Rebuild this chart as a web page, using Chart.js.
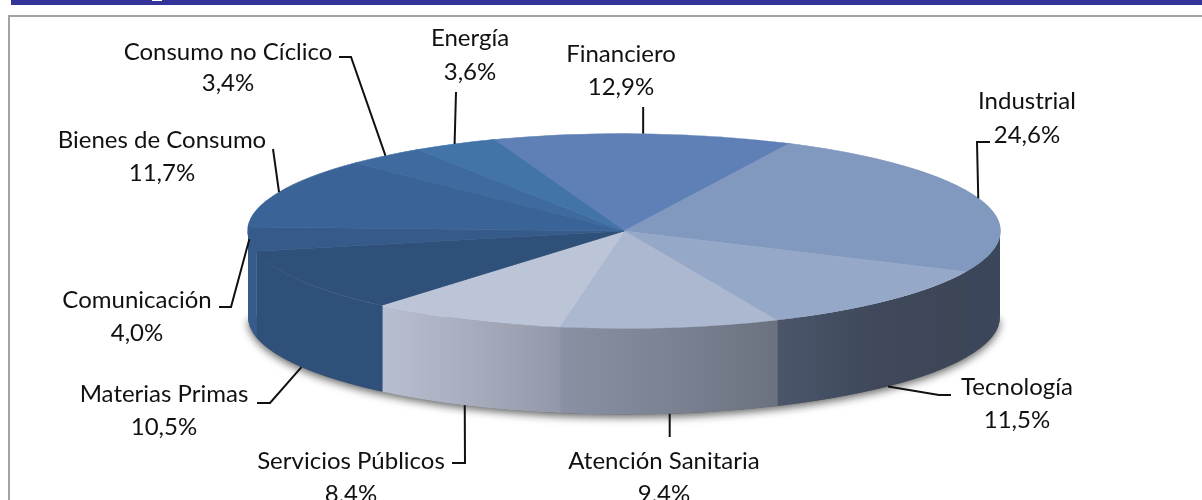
<!DOCTYPE html>
<html>
<head>
<meta charset="utf-8">
<title>Sectores</title>
<script src="https://cdn.jsdelivr.net/npm/chart.js@4.4.1/dist/chart.umd.js"></script>
<style>
    html, body { margin: 0; padding: 0; background: #fff; overflow: hidden; }
    .page { position: relative; width: 1202px; height: 500px; overflow: hidden; }
    .header { position: absolute; left: 11px; top: 0; right: 0; height: 5px; background: #333399; }
    .header i { position: absolute; left: 141px; top: 0; width: 10px; height: 1px; background: #fff; }
    .frame { position: absolute; left: 8px; top: 15px; width: 1300px; height: 600px; border: 2px solid #a3a3a3; }
    canvas { position: absolute; left: 0; top: 0; }
</style>
</head>
<body>
<div class="page">
    <div class="header"><i></i></div>
    <div class="frame"></div>
    <canvas id="sectorChart" width="1202" height="500"></canvas>
</div>
<script>
// Data
const categories = ['Financiero', 'Industrial', 'Tecnología', 'Atención Sanitaria', 'Servicios Públicos',
    'Materias Primas', 'Comunicación', 'Bienes de Consumo', 'Consumo no Cíclico', 'Energía'];
const values = [12.9, 24.6, 11.5, 9.4, 8.4, 10.5, 4.0, 11.7, 3.4, 3.6];

// Colours
const topColors = ['#5f80b6', '#8198bf', '#96a8c8', '#abb8d0', '#bcc4d7',
    '#2f5078', '#365b8a', '#3a6498', '#3e6a9f', '#4274aa'];
const wallLeft = ['#5f80b6', '#3a4659', '#4c566b', '#8a91a4', '#b8bfd0',
    '#2f5078', '#365b8a', '#3a6498', '#3e6a9f', '#4274aa'];
const wallMiddle = ['#5f80b6', '#3b465a', '#3f495b', '#7b8292', '#a7adbd',
    '#2f5078', '#365b8a', '#3a6498', '#3e6a9f', '#4274aa'];
const wallRight = ['#5f80b6', '#3b475b', '#3c4657', '#6a717f', '#9298a8',
    '#2f5078', '#365b8a', '#3a6498', '#3e6a9f', '#4274aa'];

// Pie geometry on the page
const pie = { x: 624, y: 231, rx: 376, ry: 97.5, depth: 86 };

// Label centre and the elbow of its leader line
const labelLayout = [
    { x: 621, y: 54, y2: 87, leader: [] },
    { x: 1027, y: 101, y2: 135, leader: [[990, 142], [977, 142]] },
    { x: 1017, y: 387, y2: 420, leader: [[951, 395], [939, 395]] },
    { x: 664, y: 461, y2: 494, leader: [] },
    { x: 351, y: 461, y2: 494, leader: [[452, 463], [465, 463]] },
    { x: 164, y: 394, y2: 427, leader: [[257, 403], [270, 403]] },
    { x: 137, y: 300, y2: 333, leader: [[219, 307], [231, 307]] },
    { x: 162, y: 140, y2: 173, leader: [[273, 149]] },
    { x: 228, y: 52, y2: 83, leader: [[339, 57], [351, 57]] },
    { x: 470, y: 38, y2: 72, leader: [[456, 92]] }
];

// Side wall of the pie, one piece per slice, only where it faces the viewer
function drawWalls(chart) {
    const ctx = chart.ctx;
    const arcs = chart.getDatasetMeta(0).data;

    // soft shadow under the disc
    ctx.save();
    ctx.shadowColor = 'rgba(0, 0, 0, 0.6)';
    ctx.shadowBlur = 9;
    ctx.shadowOffsetY = 3;
    ctx.fillStyle = '#666';
    ctx.beginPath();
    ctx.ellipse(pie.x, pie.y + pie.depth, pie.rx, pie.ry, 0, 0, Math.PI);
    ctx.fill();
    ctx.restore();

    arcs.forEach((arc, i) => {
        const { startAngle, endAngle } = arc.getProps(['startAngle', 'endAngle'], true);
        // small overlap so no light seam shows between the pieces
        const from = Math.max(startAngle - 0.004, 0);
        const to = Math.min(endAngle, Math.PI);
        if (to <= from) return;

        const xA = pie.x + pie.rx * Math.cos(to);
        const xB = pie.x + pie.rx * Math.cos(from);
        const gradient = ctx.createLinearGradient(xA, 0, xB, 0);
        gradient.addColorStop(0, wallLeft[i]);
        gradient.addColorStop(0.5, wallMiddle[i]);
        gradient.addColorStop(1, wallRight[i]);

        ctx.fillStyle = gradient;
        ctx.beginPath();
        ctx.ellipse(pie.x, pie.y, pie.rx, pie.ry, 0, from, to);
        ctx.ellipse(pie.x, pie.y + pie.depth, pie.rx, pie.ry, 0, to, from, true);
        ctx.closePath();
        ctx.fill();
    });
}

// Flattens the library's round pie to the ellipse of the top face
const tiltPlugin = {
    id: 'tilt',
    beforeDatasetsDraw(chart) {
        drawWalls(chart);
        const arc = chart.getDatasetMeta(0).data[0];
        const { x, y, outerRadius } = arc.getProps(['x', 'y', 'outerRadius'], true);
        const ctx = chart.ctx;
        ctx.save();
        ctx.translate(pie.x, pie.y);
        ctx.scale(pie.rx / outerRadius, pie.ry / outerRadius);
        ctx.translate(-x, -y);
    },
    afterDatasetsDraw(chart) {
        chart.ctx.restore();
    }
};

// Category + percentage labels with leader lines
const labelPlugin = {
    id: 'sliceLabels',
    afterDraw(chart) {
        const ctx = chart.ctx;
        const arcs = chart.getDatasetMeta(0).data;
        ctx.save();
        arcs.forEach((arc, i) => {
            const { startAngle, endAngle } = arc.getProps(['startAngle', 'endAngle'], true);
            const mid = (startAngle + endAngle) / 2;
            const facing = Math.sin(mid) > 0.2;
            const endX = pie.x + pie.rx * Math.cos(mid);
            const endY = pie.y + pie.ry * Math.sin(mid) + (facing ? pie.depth : 0);
            const layout = labelLayout[i];

            ctx.strokeStyle = '#111';
            ctx.lineWidth = 2;
            ctx.beginPath();
            if (layout.leader.length) {
                layout.leader.forEach((p, n) => n ? ctx.lineTo(p[0], p[1]) : ctx.moveTo(p[0], p[1]));
                ctx.lineTo(endX, endY);
            } else {
                // straight tick between the text and the rim
                ctx.moveTo(endX, endY);
                ctx.lineTo(endX, i === 0 ? 107 : 437);
            }
            ctx.stroke();

            ctx.fillStyle = '#111';
            ctx.font = '24px Lato, "Open Sans", sans-serif';
            ctx.textAlign = 'center';
            ctx.textBaseline = 'middle';
            ctx.fillText(categories[i], layout.x, layout.y);
            ctx.fillText(values[i].toFixed(1).replace('.', ',') + '%', layout.x, layout.y2);
        });
        ctx.restore();
    }
};

new Chart(document.getElementById('sectorChart').getContext('2d'), {
    type: 'pie',
    data: {
        labels: categories,
        datasets: [{
            data: values,
            backgroundColor: topColors,
            borderColor: topColors,
            borderWidth: 1,
            clip: false
        }]
    },
    options: {
        responsive: false,
        animation: false,
        rotation: -20.3,
        plugins: {
            legend: { display: false },
            tooltip: { enabled: false }
        }
    },
    plugins: [tiltPlugin, labelPlugin]
});
</script>
</body>
</html>
